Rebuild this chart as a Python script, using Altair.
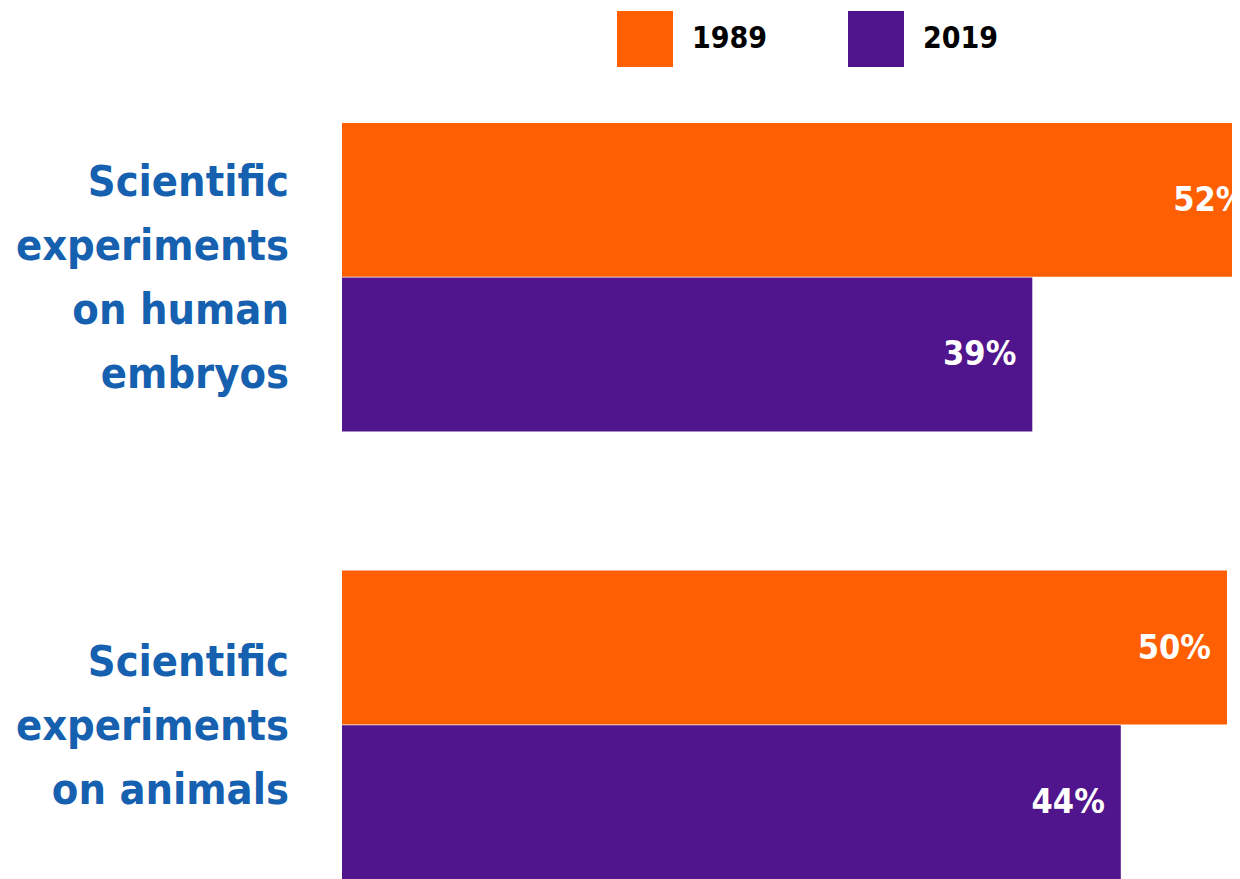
import altair as alt
import pandas as pd

categories = ["Scientific experiments on human embryos", "Scientific experiments on animals"]
category_lines = ["Scientific\nexperiments\non human\nembryos", "Scientific\nexperiments\non animals"]
years = ["1989", "2019"]
values_1989 = [52, 50]
values_2019 = [39, 44]
colors = ["#FF5F03", "#50148C"]

rows = []
for c, v89, v19 in zip(categories, values_1989, values_2019):
    rows.append({"category": c, "year": "1989", "value": v89, "label": f"{v89}%"})
    rows.append({"category": c, "year": "2019", "value": v19, "label": f"{v19}%"})
df = pd.DataFrame(rows)
cat_df = pd.DataFrame({"category": categories, "text": category_lines,
                       "nlines": [t.count("\n") + 1 for t in category_lines]})

FONT = "'DejaVu Sans Condensed', 'Liberation Sans Narrow', sans-serif"
LINE_H = 64

y_enc = alt.Y("category:N", sort=categories, axis=None,
              scale=alt.Scale(paddingInner=0.311, paddingOuter=0))
yoff_enc = alt.YOffset("year:N", sort=years, scale=alt.Scale(paddingInner=0.005, paddingOuter=0))
x_scale = alt.Scale(domain=[0, 890 / 17.7], nice=False, zero=True)

bars = alt.Chart(df).mark_bar(clip=True, cornerRadius=0).encode(
    x=alt.X("value:Q", scale=x_scale, axis=None),
    y=y_enc,
    yOffset=yoff_enc,
    color=alt.Color("year:N", sort=years,
                    scale=alt.Scale(domain=years, range=colors),
                    legend=alt.Legend(
                        title=None, orient="none", direction="horizontal",
                        legendX=275, legendY=-112, padding=0,
                        symbolType="square", symbolSize=3136, symbolStrokeWidth=0,
                        symbolOpacity=1,
                        labelFont=FONT, labelFontSize=30, labelFontWeight="bold",
                        labelColor="#000000", labelOffset=19, columnPadding=80,
                        labelLimit=200)),
)

value_text = alt.Chart(df).mark_text(
    clip=True, align="right", baseline="middle", dx=-16, dy=1,
    font=FONT, fontSize=34, fontWeight="bold", color="#FFFFFF"
).encode(
    x=alt.X("value:Q", scale=x_scale),
    y=y_enc,
    yOffset=yoff_enc,
    text="label:N",
)

cat_layers = []
for cat, n in zip(categories, cat_df["nlines"]):
    cat_layers.append(
        alt.Chart(cat_df).transform_filter(alt.datum.category == cat).mark_text(
            align="right", baseline="middle", lineBreak="\n", lineHeight=LINE_H,
            font=FONT, fontSize=43, fontWeight="bold", color="#1660B0",
            dy=-(int(n) - 1) / 2 * LINE_H + 2
        ).encode(
            x=alt.value(-53),
            y=y_enc,
            text="text:N",
        )
    )

chart = alt.layer(bars, value_text, *cat_layers).properties(
    width=890, height=756,
    autosize=alt.AutoSizeParams(type="none"),
    padding={"left": 334, "top": 115, "right": 0, "bottom": 0},
).configure_view(stroke=None)

chart.save("out.html", embed_options={"renderer": "svg", "actions": False})
